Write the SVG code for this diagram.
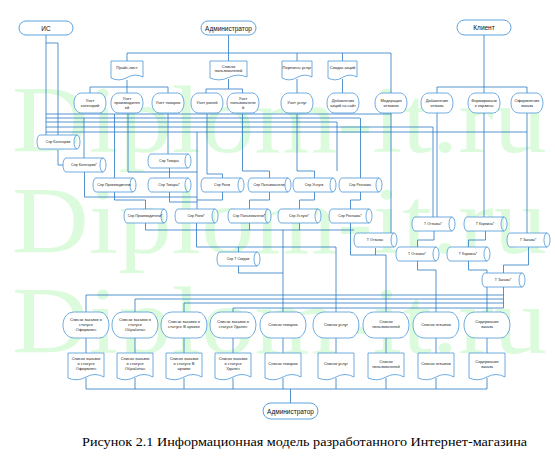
<svg xmlns="http://www.w3.org/2000/svg" width="555" height="460" viewBox="0 0 555 460">
<style>
.wm{font-family:"Liberation Serif",serif;font-size:95px;fill:#dcfbdc}
.sh{fill:#fff;stroke:#4b97d8;stroke-width:0.8}
.tm{fill:#fff;stroke:#4b97d8;stroke-width:0.9}
.c{fill:none;stroke:#2a78c4;stroke-width:0.8}
.t{font-family:"Liberation Sans",Arial,sans-serif;font-size:4px;fill:#222;text-anchor:middle}
.ts{font-family:"Liberation Sans",Arial,sans-serif;font-size:3.6px;fill:#222;text-anchor:middle}
.tt{font-family:"Liberation Sans",Arial,sans-serif;font-size:6.5px;fill:#111;text-anchor:middle}
.cap{font-family:"Liberation Serif",serif;font-size:13px;fill:#000}
</style>
<defs>
<path id="dispS" class="sh" d="M0,10 C0,4 3.2,0 8,0 H25.6 A6.4,10 0 0 1 25.6,20 H8 C3.2,20 0,16 0,10Z"/>
<path id="dispB" class="sh" d="M0,13 C0,5.2 4.6,0 11.5,0 H36.8 A9.2,13 0 0 1 36.8,26 H11.5 C4.6,26 0,20.8 0,13Z"/>
<path id="docB" class="sh" d="M0,0 H36 V24 Q27,19 18,24 Q9,29 0,25 Z"/>
<path id="cyl" class="sh" d="M3,0 H40 A3,7 0 0 1 40,14 H3 A3,7 0 0 1 3,0 Z M40,0 A3,7 0 0 0 40,14"/>
</defs>
<rect width="555" height="460" fill="#fff"/>
<g id="watermark">
<text class="wm" x="12" y="152" textLength="535" lengthAdjust="spacingAndGlyphs">Diplom-it.ru</text>
<text class="wm" x="12" y="253" textLength="535" lengthAdjust="spacingAndGlyphs">Diplom-it.ru</text>
<text class="wm" x="12" y="353" textLength="535" lengthAdjust="spacingAndGlyphs">Diplom-it.ru</text>
</g>
<g id="connectors">
<path class="c" d="M228.5,35 V53 M127,53 H391 M127,53 V61 M228.5,53 V61 M297,53 V61 M342.5,53 V61 M391,53 V93"/>
<path class="c" d="M127,80 V93 M90,93 V87 H168 V93 M228.5,79 V89 M206,93 V89 H242.5 V93 M297,79 V93 M342.5,79 V93"/>
<path class="c" d="M484,35 V93 M437,93 V87 H527 V93"/>
<path class="c" d="M46,35 V135 M46,43 H58 V135 M58,150 V165 H63"/>
<path class="c" d="M46,114 H391 M46,118 H360 M46,122 H337 M46,127 H433 V217 M46,132 H527"/>
<path class="c" d="M84,118 V158 M114.5,114 V178 M128,114 V172 H197 M168,114 V154 M169.5,168 V178 M197,132 V209 M207,114 V174 H222.5 V178 M242.5,114 V171 H269.5 V178 M297,114 V171 H314.5 V178 M360.5,118 V178 M337,122 V171"/>
<path class="c" d="M391,113 V233 M437,113 V217 M484,113 V217 M527,113 V233"/>
<path class="c" d="M114.5,192 V200 H145.5 V209 M222.5,192 V200 H197 M269.5,192 V200 H249.5 V209 M314.5,192 V200 H299.5 V209 M360.5,192 V200 H350.5 V209 M84.5,172 V197 H197 M169.5,192 V202 H197"/>
<path class="c" d="M145.5,223 V230 H354 M299.5,223 V230 M249.5,223 V230 M283,230 V312 M196.5,223 V247 H336 V312 M238.5,247 V252 M238.5,266 V273 H283 M350.5,223 V255 H386 V312 M375.5,248 V255"/>
<path class="c" d="M434,231 V240 H417.5 V247 M485.5,231 V240 H468.5 V247 M528.5,247 V265 H503.5 V273 M417.5,261 V270 H436 V312 M468.5,261 V270 H487 V312"/>
<path class="c" d="M503.5,287 V308 M503.5,295 H86 V312 M503.5,299 H135 V312 M503.5,303 H184 V312 M503.5,308 H233 V312"/>
<path class="c" d="M86,338 V353 M135,338 V353 M184,338 V353 M233,338 V353 M283,338 V353 M336,338 V353 M386,338 V353 M436,338 V353 M487,338 V353"/>
<path class="c" d="M86,378 V389 M135,378 V389 M184,378 V389 M233,378 V389 M283,378 V389 M336,378 V389 M386,378 V389 M436,378 V389 M487,378 V389 M86,389 H487 M290.5,389 V403"/>
</g>
<g id="is"><rect class="tm" x="19" y="21" width="54" height="14" rx="7"/><text class="tt" x="46" y="30.5">ИС</text></g>
<g id="admin-top"><rect class="tm" x="201" y="21" width="55" height="14" rx="7"/><text class="tt" x="228.5" y="30.5">Администратор</text></g>
<g id="client"><rect class="tm" x="457" y="20" width="54" height="15" rx="7.5"/><text class="tt" x="484" y="30">Клиент</text></g>
<g id="admin-bottom"><rect class="tm" x="263" y="403" width="55" height="16" rx="8"/><text class="tt" x="290.5" y="413.5">Администратор</text></g>

<g id="doc-price"><path class="sh" d="M111,61 H143 V77 Q135,73 127,77.5 Q119,82 111,78 Z"/><text class="t" x="127" y="69">Прайс-лист</text></g>
<g id="doc-users"><path class="sh" d="M210,61 H247 V77 Q237.75,73 228.5,77.5 Q219.25,82 210,78 Z"/><text class="t" x="228.5" y="67.5">Список</text><text class="t" x="228.5" y="72">пользователей</text></g>
<g id="doc-services"><path class="sh" d="M282,61 H312 V77 Q304.5,73 297,77.5 Q289.5,82 282,78 Z"/><text class="t" x="297" y="69">Перечень услуг</text></g>
<g id="doc-promo"><path class="sh" d="M328,61 H357 V77 Q349.75,73 342.5,77.5 Q335.25,82 328,78 Z"/><text class="t" x="342.5" y="69">Сводка акций</text></g>

<g id="p-cat"><use href="#dispS" x="74" y="93"/><text class="t" x="90" y="102">Учет</text><text class="t" x="90" y="106.5">категорий</text></g>
<g id="p-man"><use href="#dispS" x="111" y="93"/><text class="t" x="127" y="99.5">Учет</text><text class="t" x="127" y="104">производител</text><text class="t" x="127" y="108.5">ей</text></g>
<g id="p-goods"><use href="#dispS" x="152" y="93"/><text class="t" x="168" y="104">Учет товаров</text></g>
<g id="p-roles"><use href="#dispS" x="191" y="93"/><text class="t" x="207" y="104">Учет ролей</text></g>
<g id="p-users"><use href="#dispS" x="227" y="93"/><text class="t" x="243" y="99.5">Учет</text><text class="t" x="243" y="104">пользователе</text><text class="t" x="243" y="108.5">й</text></g>
<g id="p-serv"><use href="#dispS" x="281" y="93"/><text class="t" x="297" y="104">Учет услуг</text></g>
<g id="p-promo"><use href="#dispS" x="327" y="93"/><text class="t" x="343" y="102">Добавление</text><text class="t" x="343" y="106.5">акций на сайт</text></g>
<g id="p-moder"><use href="#dispS" x="375" y="93"/><text class="t" x="391" y="102">Модерация</text><text class="t" x="391" y="106.5">отзывов</text></g>
<g id="p-review"><use href="#dispS" x="421" y="93"/><text class="t" x="437" y="102">Добавление</text><text class="t" x="437" y="106.5">отзыва</text></g>
<g id="p-cart"><use href="#dispS" x="468" y="93"/><text class="t" x="484" y="102">Формировани</text><text class="t" x="484" y="106.5">е корзины</text></g>
<g id="p-order"><use href="#dispS" x="511" y="93"/><text class="t" x="527" y="102">Оформление</text><text class="t" x="527" y="106.5">заказа</text></g>

<g id="s-cat"><use href="#cyl" x="37" y="135"/><text class="ts" x="58" y="143.3">Спр Категории</text></g>
<g id="s-cat2"><use href="#cyl" x="63" y="158"/><text class="ts" x="84" y="166.3">Спр Категории*</text></g>
<g id="s-goods"><use href="#cyl" x="148" y="154"/><text class="ts" x="169" y="162.3">Спр Товары</text></g>
<g id="s-man"><use href="#cyl" x="93" y="178"/><text class="ts" x="114" y="186.3">Спр Производители</text></g>
<g id="s-goods2"><use href="#cyl" x="148" y="178"/><text class="ts" x="169" y="186.3">Спр Товары*</text></g>
<g id="s-roles"><use href="#cyl" x="201" y="178"/><text class="ts" x="222" y="186.3">Спр Роли</text></g>
<g id="s-users"><use href="#cyl" x="248" y="178"/><text class="ts" x="269" y="186.3">Спр Пользователи</text></g>
<g id="s-serv"><use href="#cyl" x="293" y="178"/><text class="ts" x="314" y="186.3">Спр Услуги</text></g>
<g id="s-promo"><use href="#cyl" x="339" y="178"/><text class="ts" x="360" y="186.3">Спр Реклама</text></g>
<g id="s-man2"><use href="#cyl" x="124" y="209"/><text class="ts" x="145" y="217.3">Спр Производители*</text></g>
<g id="s-roles2"><use href="#cyl" x="175" y="209"/><text class="ts" x="196" y="217.3">Спр Роли*</text></g>
<g id="s-users2"><use href="#cyl" x="228" y="209"/><text class="ts" x="249" y="217.3">Спр Пользователи*</text></g>
<g id="s-serv2"><use href="#cyl" x="278" y="209"/><text class="ts" x="299" y="217.3">Спр Услуги*</text></g>
<g id="s-promo2"><use href="#cyl" x="329" y="209"/><text class="ts" x="350" y="217.3">Спр Реклама*</text></g>
<g id="s-disc"><use href="#cyl" x="217" y="252"/><text class="ts" x="238" y="260.3">Спр Т Скидки</text></g>
<g id="t-rev0"><use href="#cyl" x="354" y="233"/><text class="ts" x="375" y="241.3">Т Отзывы</text></g>
<g id="t-rev1"><use href="#cyl" x="412" y="217"/><text class="ts" x="433" y="225.3">Т Отзывы*</text></g>
<g id="t-cart1"><use href="#cyl" x="464" y="217"/><text class="ts" x="485" y="225.3">Т Корзина*</text></g>
<g id="t-rev2"><use href="#cyl" x="396" y="247"/><text class="ts" x="417" y="255.3">Т Отзывы*</text></g>
<g id="t-cart2"><use href="#cyl" x="447" y="247"/><text class="ts" x="468" y="255.3">Т Корзина*</text></g>
<g id="t-ord1"><use href="#cyl" x="507" y="233"/><text class="ts" x="528" y="241.3">Т Заказы*</text></g>
<g id="t-ord2"><use href="#cyl" x="482" y="273"/><text class="ts" x="503" y="281.3">Т Заказы*</text></g>

<g id="o1"><use href="#dispB" x="63" y="312"/><text class="t" x="86" y="320.5">Список заказов в</text><text class="t" x="86" y="325.5">статусе</text><text class="t" x="86" y="330.5">Оформлен</text></g>
<g id="o2"><use href="#dispB" x="112" y="312"/><text class="t" x="135" y="320.5">Список заказов в</text><text class="t" x="135" y="325.5">статусе</text><text class="t" x="135" y="330.5">Обработан</text></g>
<g id="o3"><use href="#dispB" x="161" y="312"/><text class="t" x="184" y="323">Список заказов в</text><text class="t" x="184" y="328">статусе В архиве</text></g>
<g id="o4"><use href="#dispB" x="210" y="312"/><text class="t" x="233" y="323">Список заказов в</text><text class="t" x="233" y="328">статусе Удален</text></g>
<g id="o5"><use href="#dispB" x="260" y="312"/><text class="t" x="283" y="326">Список товаров</text></g>
<g id="o6"><use href="#dispB" x="313" y="312"/><text class="t" x="336" y="326">Список услуг</text></g>
<g id="o7"><use href="#dispB" x="363" y="312"/><text class="t" x="386" y="323">Список</text><text class="t" x="386" y="328">пользователей</text></g>
<g id="o8"><use href="#dispB" x="413" y="312"/><text class="t" x="436" y="326">Список отзывов</text></g>
<g id="o9"><use href="#dispB" x="464" y="312"/><text class="t" x="487" y="323">Содержание</text><text class="t" x="487" y="328">заказа</text></g>

<g id="d1"><use href="#docB" x="68" y="353"/><text class="t" x="86" y="360">Список заказов</text><text class="t" x="86" y="365">в статусе</text><text class="t" x="86" y="370">Оформлен</text></g>
<g id="d2"><use href="#docB" x="117" y="353"/><text class="t" x="135" y="360">Список заказов</text><text class="t" x="135" y="365">в статусе</text><text class="t" x="135" y="370">Обработан</text></g>
<g id="d3"><use href="#docB" x="166" y="353"/><text class="t" x="184" y="360">Список заказов</text><text class="t" x="184" y="365">в статусе В</text><text class="t" x="184" y="370">архиве</text></g>
<g id="d4"><use href="#docB" x="215" y="353"/><text class="t" x="233" y="360">Список заказов</text><text class="t" x="233" y="365">в статусе</text><text class="t" x="233" y="370">Удален</text></g>
<g id="d5"><use href="#docB" x="265" y="353"/><text class="t" x="283" y="365">Список товаров</text></g>
<g id="d6"><use href="#docB" x="318" y="353"/><text class="t" x="336" y="365">Список услуг</text></g>
<g id="d7"><use href="#docB" x="368" y="353"/><text class="t" x="386" y="362.5">Список</text><text class="t" x="386" y="367.5">пользователей</text></g>
<g id="d8"><use href="#docB" x="418" y="353"/><text class="t" x="436" y="365">Список отзывов</text></g>
<g id="d9"><use href="#docB" x="469" y="353"/><text class="t" x="487" y="362.5">Содержание</text><text class="t" x="487" y="367.5">заказа</text></g>

<text class="cap" x="82" y="446" textLength="445" lengthAdjust="spacingAndGlyphs">Рисунок 2.1 Информационная модель разработанного Интернет-магазина</text>
</svg>
